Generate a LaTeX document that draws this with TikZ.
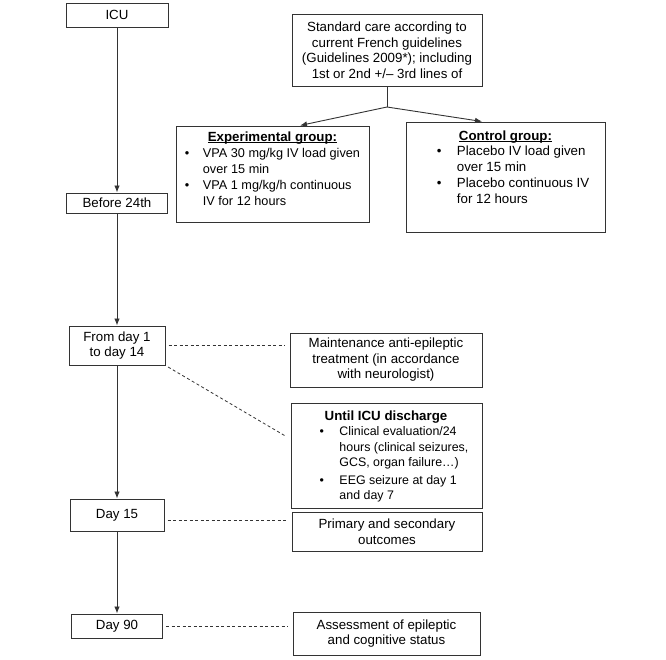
\documentclass[tikz,border=0pt]{standalone}
\usepackage{fontspec}
\setmainfont{Liberation Sans}
\usepackage{array}
\usetikzlibrary{arrows.meta}

\newcommand{\boxfont}{\fontsize{13.3}{15.5}\selectfont}
\newcommand{\expfont}{\fontsize{12.7}{15.5}\selectfont}
\newcommand{\untilfont}{\fontsize{12.4}{15.5}\selectfont}
\newcommand{\headline}[1]{\setbox0\hbox{\bfseries #1}\rlap{\rule[-2.2pt]{\wd0}{0.9pt}}\box0}

\tikzset{
  box/.style={draw=black!80, line width=1pt, inner sep=2pt, align=center, font=\boxfont},
  txt/.style={inner sep=0pt, font=\boxfont},
  flow/.style={draw=black!80, line width=0.9pt, -{Latex[length=7pt,width=5.5pt]}},
  link/.style={draw=black!80, line width=0.8pt, dash pattern=on 3pt off 2.5pt,
    shorten <=3pt, shorten >=5pt}
}

\begin{document}
\begin{tikzpicture}[x=1pt, y=-1pt]
  \useasboundingbox (0,0) rectangle (666,659);

  %% time line
  \node[box, minimum width=102, minimum height=24] (icu) at (117,15) {ICU};
  \node[box, minimum width=101, minimum height=20] (before) at (117,203) {Before 24th};
  \node[box, minimum width=96, minimum height=39] (from) at (117,345.5) {From day 1\\to day 14};
  \node[box, minimum width=94, minimum height=32] (day15) at (117,515) {Day 15};
  \node[box, minimum width=91, minimum height=24] (day90) at (117,626) {Day 90};

  \draw[flow] (icu) -- (before);
  \draw[flow] (before) -- (from);
  \draw[flow] (from) -- (day15);
  \draw[flow] (day15) -- (day90);

  %% standard care and the two groups
  \node[box, minimum width=190, minimum height=72] (care) at (387,50)
    {Standard care according to\\current French guidelines\\(Guidelines 2009*); including\\1st or 2nd +/– 3rd lines of};
  \coordinate (split) at (387,107);
  \node[box, minimum width=193, minimum height=96] (exp) at (272.5,174) {};
  \node[box, minimum width=199, minimum height=110] (ctrl) at (505.5,177) {};

  \node[txt, anchor=north] (exptxt) at ([yshift=-4.5pt]exp.north)
    {\begin{tabular}{@{}>{\expfont}c@{\hspace{13.5pt}}>{\expfont}l@{}}
      \multicolumn{2}{c}{\headline{Experimental group:}}\\[1pt]
      \textbullet & VPA 30 mg/kg IV load given\\
       & over 15 min\\[1pt]
      \textbullet & VPA 1 mg/kg/h continuous\\
       & IV for 12 hours
    \end{tabular}};
  \node[txt, anchor=north] (ctrltxt) at ([xshift=7.5pt,yshift=-7.5pt]ctrl.north)
    {\begin{tabular}{@{}c@{\hspace{15.5pt}}l@{}}
      \multicolumn{2}{@{}c@{\hspace{15pt}}}{\headline{Control group:}}\\
      \textbullet & Placebo IV load given\\
       & over 15 min\\[1pt]
      \textbullet & Placebo continuous IV\\
       & for 12 hours
    \end{tabular}};

  \draw[draw=black!80, line width=0.9pt] (care) -- (split);
  \draw[flow] (split) -- ([xshift=27.5pt]exp.north);
  \draw[flow] (split) -- ([xshift=-23.5pt]ctrl.north);

  %% follow-up
  \node[box, minimum width=192, minimum height=54] (maint) at (386,360)
    {Maintenance anti-epileptic\\treatment (in accordance\\with neurologist)};
  \node[box, minimum width=191, minimum height=105] (until) at (386.5,455.5) {};
  \node[txt, anchor=north] (untiltxt) at ([xshift=7.5pt,yshift=-6.5pt]until.north)
    {\begin{tabular}{@{}>{\untilfont}c@{\hspace{15.5pt}}>{\untilfont}l@{}}
      \multicolumn{2}{@{}c@{\hspace{16pt}}}{\bfseries Until ICU discharge}\\
      \textbullet & Clinical evaluation/24\\
       & hours (clinical seizures,\\
       & GCS, organ failure…)\\[2pt]
      \textbullet & EEG seizure at day 1\\
       & and day 7
    \end{tabular}};
  \node[box, minimum width=190, minimum height=39] (prim) at (387,531.5)
    {Primary and secondary\\outcomes};
  \node[box, minimum width=187, minimum height=43] (assess) at (386.5,633.5)
    {Assessment of epileptic\\and cognitive status};

  \coordinate (d15end) at (day15.east -| prim.west);
  \draw[link] (from.east) -- (from.east -| maint.west);
  \draw[link] (from.south east) -- ([yshift=16.5pt]until.west);
  \draw[link] ([yshift=-5pt]day15.east) -- ([yshift=-5pt]d15end);
  \draw[link] (day90.east) -- (day90.east -| assess.west);

\end{tikzpicture}
\end{document}
